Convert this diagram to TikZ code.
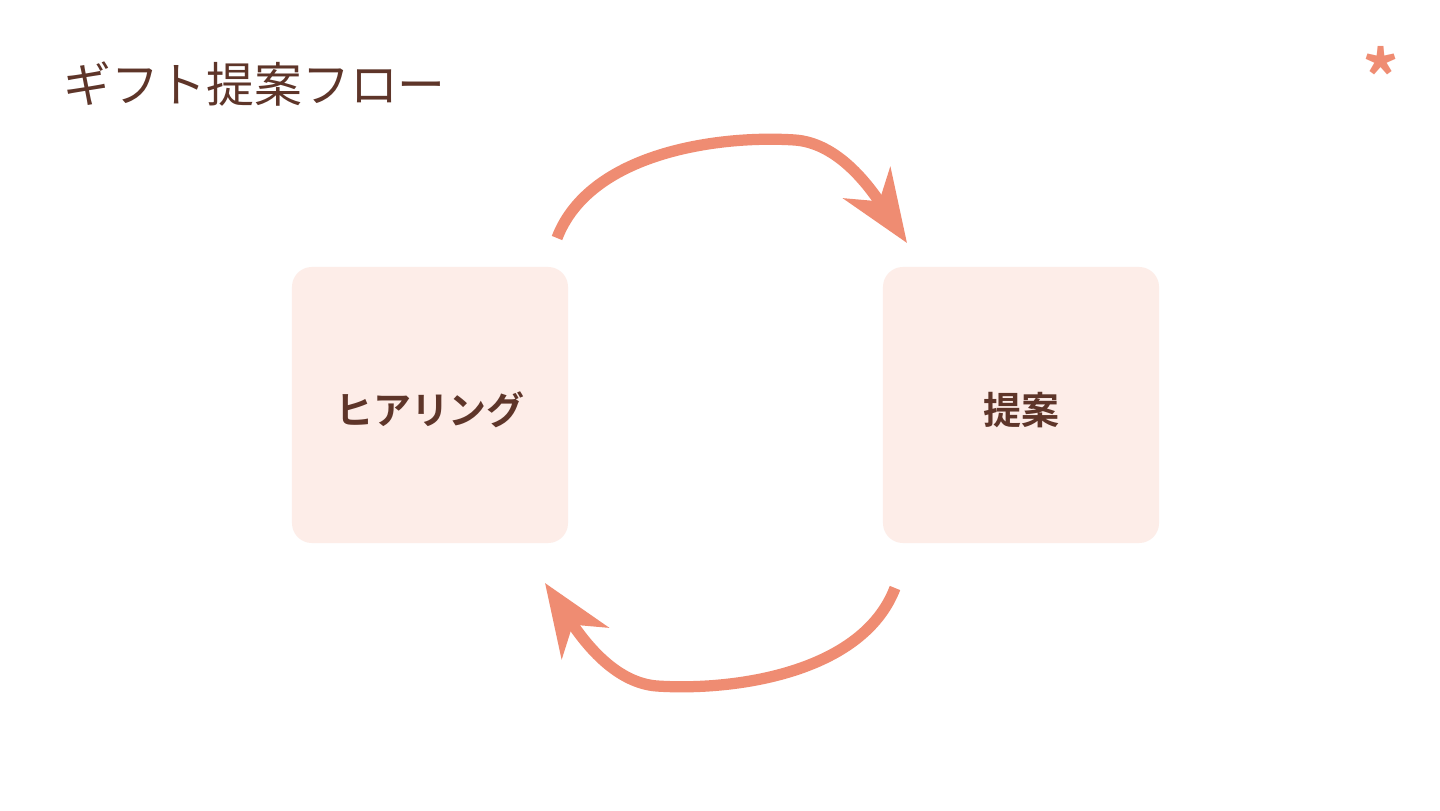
\documentclass[tikz,border=0pt]{standalone}
\usepackage{fontspec}
\newfontfamily\jpfont{Noto Sans CJK JP}
\newfontfamily\jpbold{Noto Sans CJK JP Bold}
\usetikzlibrary{arrows.meta}
\definecolor{brownTxt}{HTML}{5E3529}
\definecolor{boxFill}{HTML}{FDEDE8}
\definecolor{salmon}{HTML}{EF8C72}
\begin{document}
\begin{tikzpicture}[x=0.025cm,y=-0.025cm,
  stepbox/.style={fill=boxFill,rounded corners=0.5cm,minimum width=6.9cm,minimum height=6.9cm,inner sep=0pt},
  steptext/.style={text=brownTxt,font=\jpbold\fontsize{27}{32}\selectfont,yshift=-3.5pt},
  flow/.style={draw=salmon,line width=8pt,-{Stealth[length=18mm,width=14mm,inset=5.5mm]}}]
\useasboundingbox (0,0) rectangle (1440,810);
\fill[white] (0,0) rectangle (1440,810);
\node[anchor=west,inner sep=0pt,text=brownTxt,font=\jpfont\fontsize{34}{40}\selectfont] (title) at (63,84) {ギフト提案フロー};
\node[inner sep=0pt,text=salmon,font=\jpbold\fontsize{52}{56}\selectfont] (star) at (1381,76) {*};
\node[stepbox,label={[steptext]center:ヒアリング}] (hear) at (430,405) {};
\node[stepbox,label={[steptext]center:提案}] (prop) at (1021,405) {};
\coordinate (s1) at (557,238);
\coordinate (t1) at (907,243);
\coordinate (s2) at (895,588);
\coordinate (t2) at (545,583);
\draw[flow] (s1) .. controls (590,152) and (720,135) .. (795,140) .. controls (835,143) and (865,180) .. (t1);
\draw[flow] (s2) .. controls (862,674) and (732,691) .. (657,686) .. controls (617,683) and (587,646) .. (t2);
\end{tikzpicture}
\end{document}
